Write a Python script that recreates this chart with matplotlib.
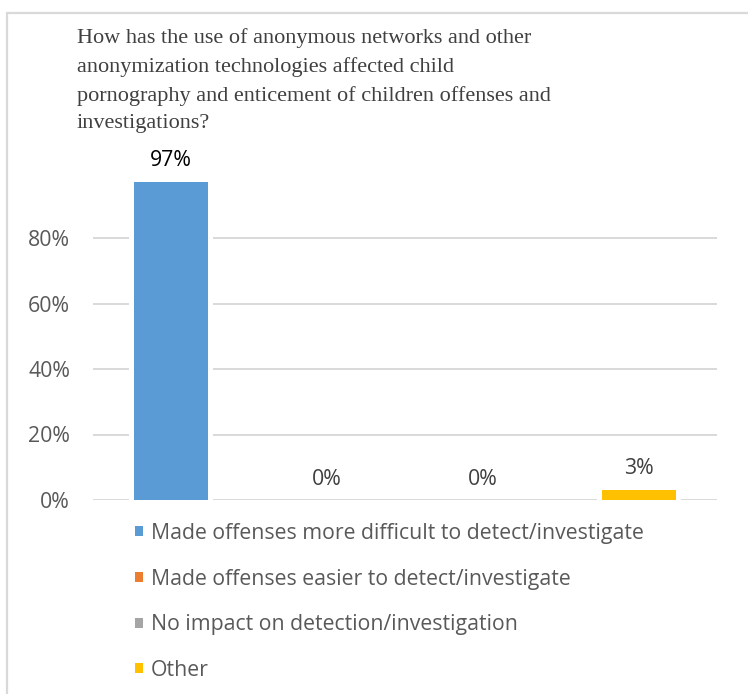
import matplotlib
matplotlib.use("Agg")
import matplotlib.pyplot as plt
from matplotlib.patches import Rectangle, Patch

# ---- data ----
categories = ["Made offenses more difficult to detect/investigate",
              "Made offenses easier to detect/investigate",
              "No impact on detection/investigation",
              "Other"]
values = [0.97, 0.00, 0.00, 0.03]
value_labels = ["97%", "0%", "0%", "3%"]
colors = ["#5B9BD5", "#ED7D31", "#A5A5A5", "#FFC000"]
yticks = [0.0, 0.2, 0.4, 0.6, 0.8]
ytick_labels = ["0%", "20%", "40%", "60%", "80%"]
title = ("How has the use of anonymous networks and other\n"
         "anonymization technologies affected child\n"
         "pornography and enticement of children offenses and\n"
         "investigations?")

W, H = 748, 694
fig = plt.figure(figsize=(W / 100, H / 100), dpi=100)
fig.patch.set_facecolor("white")

# outer chart frame
fig.patches.append(Rectangle((7 / W, -0.1), 1.2, 1 - 13 / H + 0.1,
                             transform=fig.transFigure, fill=False,
                             edgecolor="#D9D9D9", linewidth=1.6))

ax_l, ax_r = 93 / W, 717 / W
y0 = 500
px_per_unit = 327.5
ytop = 0.99
ax_b = 1 - y0 / H
ax_t = 1 - (y0 - ytop * px_per_unit) / H
ax = fig.add_axes([ax_l, ax_b, ax_r - ax_l, ax_t - ax_b])
ax.set_xlim(-0.5, 3.5)
ax.set_ylim(0, ytop)
for s in ax.spines.values():
    s.set_visible(False)

fs = 15.3
ax.set_yticks(yticks)
ax.set_yticklabels(ytick_labels, fontsize=fs, color="#595959",
                   family=["Open Sans", "DejaVu Sans"])
ax.tick_params(axis="y", length=0, pad=16.5)
ax.set_xticks([])
ax.yaxis.grid(True, color="#D9D9D9", linewidth=1.4, zorder=0)
ax.set_axisbelow(True)

x = list(range(len(categories)))
# white gaps around bars (cut the gridlines)
ax.bar([xi for xi, v in zip(x, values) if v > 0],
       [v for v in values if v > 0], width=0.535, color="white", zorder=1)
bars = ax.bar(x, values, width=0.474, color=colors, zorder=2)

for xi, v, lab in zip(x, values, value_labels):
    ax.annotate(lab, (xi, v), xytext=(0, 8 if v > 0 else 7.5),
                textcoords="offset points",
                ha="center", va="bottom", fontsize=fs,
                color="black" if v > 0.5 else "#404040",
                family=["Open Sans", "DejaVu Sans"])

fig.text(77 / W, 1 - 28 / H, title, ha="left", va="top",
         fontsize=16, color="#404040", family=["Liberation Serif"],
         linespacing=1.6)

handles = [Patch(facecolor=c, edgecolor="none") for c in colors]
leg = fig.legend(handles, categories, loc="upper left",
                 bbox_to_anchor=(135 / W, 1 - 523 / H),
                 frameon=False, borderpad=0, borderaxespad=0,
                 handlelength=0.36, handleheight=0.36, handletextpad=0.4,
                 labelspacing=1.16,
                 prop={"family": ["Open Sans", "DejaVu Sans"], "size": fs})
for t in leg.get_texts():
    t.set_color("#595959")

fig.savefig("out.png", dpi=100)
